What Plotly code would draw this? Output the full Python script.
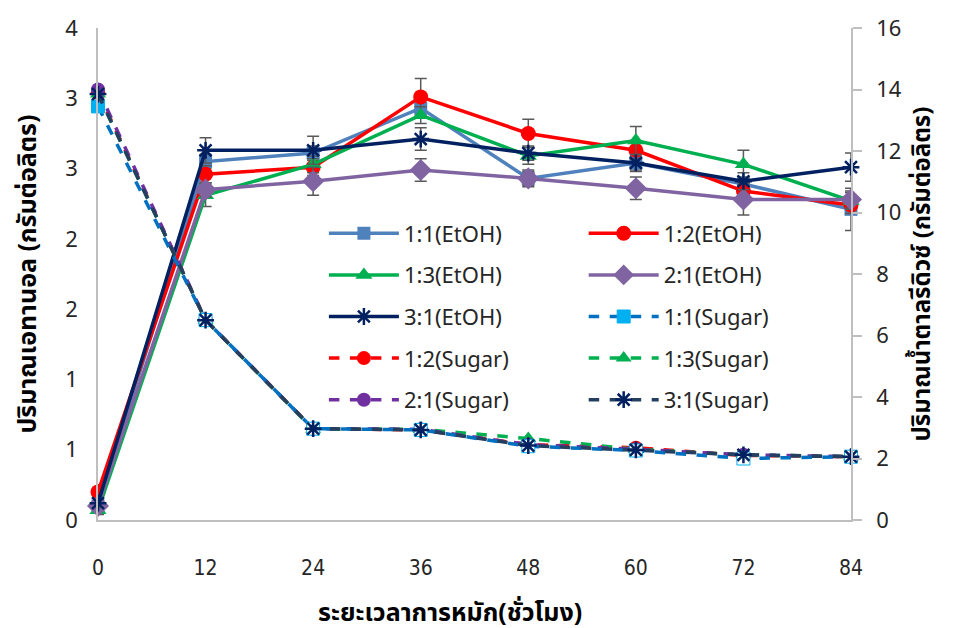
import plotly.graph_objects as go

hours = [0, 12, 24, 36, 48, 60, 72, 84]

etoh_11 = [0.10, 2.55, 2.61, 2.93, 2.43, 2.54, 2.39, 2.21]
etoh_12 = [0.20, 2.46, 2.51, 3.01, 2.75, 2.63, 2.34, 2.24]
etoh_13 = [0.07, 2.31, 2.53, 2.88, 2.59, 2.70, 2.53, 2.27]
etoh_21 = [0.10, 2.35, 2.41, 2.49, 2.43, 2.36, 2.28, 2.28]
etoh_31 = [0.12, 2.63, 2.63, 2.71, 2.61, 2.54, 2.41, 2.51]

err_11 = [0.03, 0.05, 0.05, 0.06, 0.06, 0.05, 0.05, 0.15]
err_12 = [0.05, 0.06, 0.06, 0.13, 0.10, 0.06, 0.06, 0.06]
err_13 = [0.03, 0.08, 0.06, 0.06, 0.06, 0.10, 0.10, 0.06]
err_21 = [0.03, 0.05, 0.10, 0.08, 0.05, 0.08, 0.11, 0.06]
err_31 = [0.03, 0.09, 0.10, 0.08, 0.05, 0.06, 0.06, 0.10]

sugar_11 = [13.45, 6.50, 2.97, 2.93, 2.40, 2.26, 2.00, 2.06]
sugar_12 = [13.90, 6.50, 2.97, 2.93, 2.45, 2.35, 2.10, 2.06]
sugar_13 = [13.85, 6.50, 2.95, 2.95, 2.65, 2.30, 2.12, 2.06]
sugar_21 = [14.00, 6.50, 2.97, 2.95, 2.45, 2.30, 2.12, 2.06]
sugar_31 = [13.85, 6.50, 2.97, 2.93, 2.42, 2.28, 2.12, 2.06]

left_tickvals = [0, 0.5, 1.0, 1.5, 2.0, 2.5, 3.0, 3.5]
left_ticktext = ["0", "1", "1", "2", "2", "3", "3", "4"]
right_tickvals = [0, 2, 4, 6, 8, 10, 12, 14, 16]

x_title = "ระยะเวลาการหมัก(ชั่วโมง)"
y_title = "ปริมาณเอทานอล (กรัมต่อลิตร)"
y2_title = "ปริมาณน้ำตาลรีดิวซ์ (กรัมต่อลิตร)"

FONT = "Noto Sans, Noto Sans Thai, Tahoma, sans-serif"
ERRC = "#595959"

fig = go.Figure()

etoh = [
    ("1:1(EtOH)", etoh_11, err_11, "#4F81BD", "square", 13, "legend", 1),
    ("1:2(EtOH)", etoh_12, err_12, "#FF0000", "circle", 15, "legend2", 1),
    ("1:3(EtOH)", etoh_13, err_13, "#00B050", "triangle-up", 15, "legend", 2),
    ("2:1(EtOH)", etoh_21, err_21, "#8064A2", "diamond", 17, "legend2", 2),
    ("3:1(EtOH)", etoh_31, err_31, "#002060", "asterisk-open", 14, "legend", 3),
]
for name, ys, es, col, sym, sz, leg, rank in etoh:
    mk = dict(symbol=sym, size=sz, color=col)
    if sym == "asterisk-open":
        mk["line"] = dict(color=col, width=2.5)
    fig.add_trace(go.Scatter(
        x=hours, y=ys, name=name, mode="lines+markers",
        line=dict(color=col, width=3.5), marker=mk,
        error_y=dict(type="data", array=es, visible=True, color=ERRC,
                     thickness=1.5, width=6),
        legend=leg, legendgroup=name, legendrank=rank, cliponaxis=False,
        yaxis="y",
    ))

sugar = [
    ("1:2(Sugar)", sugar_12, "#FF0000", "#FF0000", "circle", 14, "legend", 4),
    ("1:3(Sugar)", sugar_13, "#00B050", "#00B050", "triangle-up", 14, "legend2", 4),
    ("2:1(Sugar)", sugar_21, "#7030A0", "#7030A0", "circle", 14, "legend", 5),
    ("1:1(Sugar)", sugar_11, "#0070C0", "#00B0F0", "square", 13, "legend2", 3),
    ("3:1(Sugar)", sugar_31, "#243F60", "#002060", "asterisk-open", 14, "legend2", 5),
]
for name, ys, lcol, mcol, sym, sz, leg, rank in sugar:
    mk = dict(symbol=sym, size=sz, color=mcol)
    if sym == "asterisk-open":
        mk["line"] = dict(color=mcol, width=2.5)
    if name == "1:1(Sugar)":
        mk["color"] = [mcol] + ["white"] * (len(ys) - 1)
        mk["line"] = dict(color=mcol, width=1)
    fig.add_trace(go.Scatter(
        x=hours, y=ys, name=name, mode="lines+markers",
        line=dict(color=lcol, width=3.5, dash="dash"), marker=mk,
        legend=leg, legendgroup=name, legendrank=rank, cliponaxis=False,
        yaxis="y2",
    ))

legend_common = dict(
    orientation="v", yanchor="top", xanchor="left",
    font=dict(family=FONT, size=22, color="#262626"),
    bgcolor="rgba(0,0,0,0)", itemwidth=70, tracegroupgap=10,
)

fig.update_layout(
    width=960, height=628,
    margin=dict(l=98, r=109, t=24, b=108),
    paper_bgcolor="white", plot_bgcolor="white",
    font=dict(family=FONT, size=20, color="#262626"),
    legend=dict(x=0.30, y=0.625, **legend_common),
    legend2=dict(x=0.645, y=0.625, **legend_common),
    xaxis=dict(
        range=[0, 84], tickvals=hours, ticktext=[str(h) for h in hours],
        showline=True, linecolor="#BFBFBF", linewidth=1.5,
        showgrid=False, zeroline=False, ticks="",
        ticklabelstandoff=28,
        tickfont=dict(family="DejaVu Sans Condensed, Liberation Sans Narrow, sans-serif", size=21, color="#262626"),
    ),
    yaxis=dict(
        range=[0, 3.5], tickvals=left_tickvals, ticktext=left_ticktext,
        showline=True, linecolor="#BFBFBF", linewidth=1.5,
        showgrid=False, zeroline=False, ticks="",
        ticklabelstandoff=14,
        tickfont=dict(size=22, color="#262626"),
        title=dict(text="<b>" + y_title + "</b>", font=dict(size=25, color="#000000"), standoff=22),
    ),
    yaxis2=dict(
        range=[0, 16], tickvals=right_tickvals, overlaying="y", side="right",
        showline=True, linecolor="#BFBFBF", linewidth=1.5,
        showgrid=False, zeroline=False, ticks="outside", ticklen=9,
        tickcolor="#BFBFBF", tickwidth=1.5, ticklabelstandoff=10,
        tickfont=dict(size=22, color="#262626"),
        title=dict(text="<b>" + y2_title + "</b>", font=dict(size=24, color="#000000"), standoff=12),
    ),
    annotations=[dict(
        text="<b>" + x_title + "</b>", xref="paper", yref="paper",
        x=0.4675, y=-0.185, xanchor="center", yanchor="middle",
        showarrow=False, font=dict(size=25, color="#000000"),
    )],
)

fig.write_html("out.html")
